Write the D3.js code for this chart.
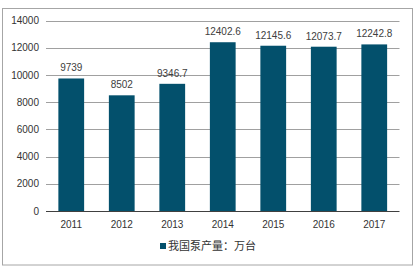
<!DOCTYPE html>
<html>
<head>
<meta charset="utf-8">
<script src="https://cdn.jsdelivr.net/npm/d3@7"></script>
<style>
    body { margin: 0; background: #fff; }
    text { font-family: "Liberation Sans", Arial, sans-serif; }
</style>
</head>
<body>
<div id="chart"></div>
<script>
const years = ["2011", "2012", "2013", "2014", "2015", "2016", "2017"];
const output = [9739, 8502, 9346.7, 12402.6, 12145.6, 12073.7, 12242.8];
const outputLabels = ["9739", "8502", "9346.7", "12402.6", "12145.6", "12073.7", "12242.8"];
const yTicks = [0, 2000, 4000, 6000, 8000, 10000, 12000, 14000];
const seriesName = "我国泵产量：万台";

const width = 419, height = 271;

const svg = d3.select("#chart").append("svg")
    .attr("width", width)
    .attr("height", height);

// outer frame
svg.append("rect")
    .attr("x", 2.5).attr("y", 8.5)
    .attr("width", 410).attr("height", 256.5)
    .attr("fill", "none")
    .attr("stroke", "#a6a6a6");

const x = d3.scaleBand()
    .domain(years)
    .range([46, 399.5])
    .paddingInner(0.49)
    .paddingOuter(0.245);

const y = d3.scaleLinear()
    .domain([0, 14000])
    .range([211, 20.5]);

// gridlines
svg.append("g")
    .selectAll("line")
    .data(yTicks.filter(d => d > 0))
    .join("line")
    .attr("x1", 46).attr("x2", 399.5)
    .attr("y1", d => Math.round(y(d)) + 0.5)
    .attr("y2", d => Math.round(y(d)) + 0.5)
    .attr("stroke", "#a0a0a0");

// y axis labels
const yAxis = svg.append("g")
    .attr("transform", "translate(39,0)")
    .call(d3.axisLeft(y).tickValues(yTicks).tickFormat(d3.format("d")).tickSize(0).tickPadding(0));
yAxis.select(".domain").remove();
yAxis.selectAll("text")
    .attr("font-size", 10)
    .attr("fill", "#333");

// bars
svg.append("g")
    .selectAll("rect")
    .data(output)
    .join("rect")
    .attr("x", (d, i) => x(years[i]))
    .attr("y", d => y(d))
    .attr("width", x.bandwidth())
    .attr("height", d => y(0) - y(d))
    .attr("fill", "#03506c");

// value labels
svg.append("g")
    .selectAll("text")
    .data(output)
    .join("text")
    .attr("x", (d, i) => x(years[i]) + x.bandwidth() / 2)
    .attr("y", d => y(d) - 7)
    .attr("text-anchor", "middle")
    .attr("font-size", 10)
    .attr("fill", "#404040")
    .text((d, i) => outputLabels[i]);

// baseline + x axis
const xAxis = svg.append("g")
    .attr("transform", `translate(0,${Math.round(y(0)) + 0.5})`)
    .call(d3.axisBottom(x).tickSize(0).tickPadding(9));
xAxis.select(".domain")
    .attr("stroke", "#404040")
    .attr("d", "M46,0H399.5");
xAxis.selectAll("text")
    .attr("font-size", 10)
    .attr("fill", "#333");

// legend
const legend = svg.append("g").attr("transform", "translate(160,243)");
legend.append("rect")
    .attr("width", 6).attr("height", 6)
    .attr("fill", "#03506c");
legend.append("text")
    .attr("x", 8).attr("y", 3)
    .attr("dy", "0.35em")
    .attr("font-size", 11)
    .attr("fill", "#333")
    .style("font-family", "'Noto Sans CJK SC', sans-serif")
    .text(seriesName);
</script>
</body>
</html>
